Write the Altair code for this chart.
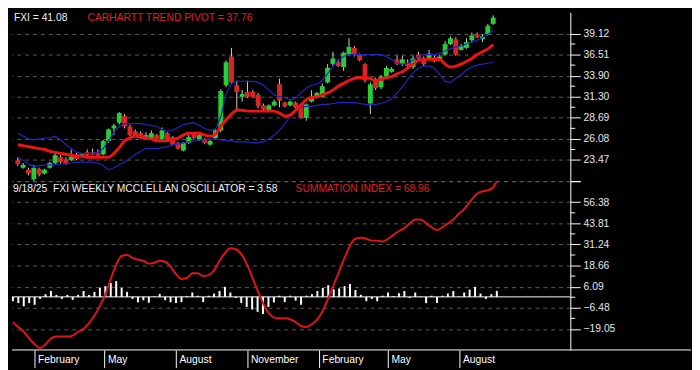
import altair as alt
import pandas as pd

FONT = "Liberation Sans, Arial, sans-serif"
W = 569
H = 172

# ---------------- data ----------------
weeks = pd.date_range("2024-01-04", periods=90, freq="7D")

open_ = [23.46, 22.52, 22.28, 21.10, 22.40, 21.81, 22.52, 23.11, 23.82, 23.59,
         23.46, 24.18, 23.94, 24.42, 24.42, 24.30, 24.18, 25.84, 27.38, 28.09,
         28.92, 27.62, 27.03, 26.79, 26.20, 26.20, 26.55, 26.08, 26.79, 26.31,
         25.60, 24.65, 25.60, 26.67, 25.96, 26.08, 25.37, 26.20, 27.14, 32.72,
         36.27, 32.72, 31.29, 31.89, 31.89, 31.53, 30.23, 29.52, 30.23, 32.84,
         30.58, 30.23, 30.58, 30.35, 28.69, 30.70, 31.29, 31.29, 33.07, 35.33,
         35.56, 34.97, 36.51, 37.34, 36.51, 35.33, 30.46, 33.43, 32.48, 33.78,
         34.38, 35.92, 35.33, 35.44, 34.97, 36.51, 36.04, 36.04, 36.16, 35.80,
         36.51, 37.82, 38.41, 37.10, 37.34, 38.29, 39.00, 38.41, 39.00, 40.31]

close = [22.99, 22.88, 21.81, 22.52, 21.69, 22.28, 23.11, 24.06, 23.22, 23.11,
         23.94, 23.59, 24.18, 24.06, 24.18, 24.06, 25.84, 27.26, 27.74, 29.28,
         27.62, 26.55, 26.43, 26.20, 26.55, 26.79, 26.08, 27.14, 25.96, 25.37,
         24.89, 25.60, 26.31, 26.20, 26.55, 25.60, 25.84, 27.14, 32.01, 35.56,
         33.07, 31.89, 31.65, 31.29, 31.29, 30.11, 29.75, 30.23, 30.70, 30.82,
         30.11, 30.70, 29.99, 28.69, 30.35, 31.29, 31.77, 32.60, 34.85, 36.04,
         35.09, 36.75, 37.46, 36.51, 35.80, 33.31, 32.84, 32.36, 33.78, 34.85,
         34.73, 35.33, 35.92, 35.09, 36.04, 36.04, 35.33, 36.63, 35.68, 36.27,
         37.82, 38.53, 36.51, 37.58, 38.05, 38.88, 38.65, 38.76, 40.07, 41.08]

high = [23.82, 23.11, 22.52, 22.88, 22.52, 22.40, 23.22, 24.30, 24.06, 23.82,
        24.77, 24.42, 24.30, 24.77, 24.89, 24.77, 25.96, 27.38, 27.97, 29.40,
        29.16, 27.86, 27.26, 27.03, 26.91, 27.14, 26.67, 27.50, 26.91, 26.43,
        25.72, 25.72, 26.55, 26.91, 26.67, 26.20, 25.96, 27.38, 32.24, 35.80,
        37.34, 33.31, 32.12, 33.31, 32.12, 31.77, 30.46, 30.35, 30.94, 33.55,
        30.70, 30.82, 30.70, 30.46, 30.46, 32.12, 31.89, 32.95, 35.33, 36.87,
        35.92, 36.87, 38.53, 37.58, 36.63, 35.44, 33.07, 33.67, 34.02, 35.09,
        34.97, 36.39, 36.39, 35.92, 36.39, 36.87, 36.27, 37.10, 36.39, 36.51,
        38.17, 38.76, 38.65, 37.82, 38.53, 39.24, 39.24, 39.00, 40.31, 41.37]

low = [22.76, 22.40, 21.57, 20.90, 21.45, 21.69, 22.40, 22.99, 22.99, 22.88,
       23.35, 23.46, 23.82, 23.94, 24.06, 23.94, 24.06, 25.60, 26.55, 27.86,
       27.38, 26.43, 26.31, 26.08, 26.08, 26.08, 25.96, 25.96, 25.84, 25.25,
       24.77, 24.54, 25.48, 26.08, 25.84, 25.48, 25.25, 26.08, 26.91, 32.48,
       32.84, 29.75, 30.70, 31.18, 31.18, 29.87, 29.52, 29.40, 30.11, 29.99,
       29.99, 30.11, 29.87, 28.57, 28.33, 30.58, 31.18, 31.18, 32.95, 35.09,
       34.97, 34.50, 36.39, 36.27, 35.68, 33.07, 29.16, 32.12, 32.24, 33.55,
       34.26, 35.21, 35.09, 34.85, 34.73, 35.92, 35.09, 35.92, 35.56, 35.68,
       36.39, 37.70, 36.39, 36.99, 37.22, 38.05, 38.53, 38.05, 38.88, 40.19]

pivot = [25.37, 25.25, 25.13, 25.01, 24.89, 24.77, 24.54, 24.42, 24.30, 24.18,
         24.06, 23.94, 23.94, 23.82, 23.82, 23.82, 23.82, 23.82, 24.30, 25.01,
         25.84, 26.20, 26.43, 26.31, 26.20, 26.08, 25.84, 25.84, 25.84, 25.96,
         26.20, 26.55, 26.79, 26.79, 26.79, 26.55, 26.43, 26.67, 27.62, 28.45,
         29.16, 29.63, 29.63, 29.52, 29.52, 29.52, 29.52, 29.52, 29.52, 29.28,
         28.92, 29.04, 29.63, 30.23, 30.94, 31.18, 31.29, 31.53, 31.77, 32.12,
         32.60, 32.95, 33.31, 33.55, 33.67, 33.67, 33.55, 33.31, 33.43, 33.67,
         33.78, 34.14, 34.38, 34.85, 35.33, 35.80, 35.92, 35.92, 35.92, 35.92,
         35.33, 34.97, 35.09, 35.33, 35.68, 36.04, 36.51, 36.87, 37.22, 37.76]

upper = [26.79, 26.43, 26.08, 25.96, 26.08, 26.20, 26.20, 26.43, 25.96, 25.37,
         24.89, 24.42, 24.30, 24.30, 24.30, 24.42, 24.89, 25.84, 26.91, 27.62,
         27.97, 27.97, 27.97, 27.97, 27.86, 27.74, 27.62, 27.26, 27.03, 27.14,
         27.50, 27.86, 27.97, 28.09, 27.74, 27.38, 27.14, 27.26, 28.80, 31.65,
         32.95, 33.19, 33.19, 33.19, 33.19, 33.07, 32.72, 32.12, 31.53, 31.29,
         31.18, 30.94, 31.06, 31.77, 32.36, 32.72, 32.84, 33.31, 34.14, 35.09,
         35.80, 36.27, 36.51, 36.51, 36.51, 36.51, 36.51, 36.51, 36.51, 36.27,
         35.92, 35.44, 35.33, 35.44, 35.80, 36.27, 36.51, 36.51, 36.51, 36.63,
         36.99, 37.22, 37.46, 37.58, 37.82, 38.05, 38.29, 38.65, 39.00, 39.48]

lower = [23.82, 23.46, 22.99, 22.64, 22.76, 22.88, 22.88, 22.88, 22.99, 22.99,
         23.11, 23.22, 23.22, 23.22, 23.22, 23.11, 22.76, 22.28, 22.52, 22.88,
         23.22, 23.71, 24.18, 24.54, 24.89, 24.89, 24.89, 25.01, 25.13, 25.37,
         25.48, 25.60, 25.72, 25.84, 25.96, 25.96, 26.08, 26.08, 25.96, 25.84,
         25.84, 25.72, 25.72, 25.72, 25.60, 25.60, 25.72, 26.08, 26.55, 27.14,
         27.97, 28.80, 29.52, 29.99, 30.11, 30.11, 30.23, 30.35, 30.35, 30.46,
         30.58, 30.58, 30.58, 30.58, 30.46, 30.35, 30.35, 30.35, 30.46, 30.70,
         31.06, 31.77, 32.48, 33.43, 34.26, 34.85, 35.09, 35.09, 34.85, 34.02,
         33.19, 33.07, 33.55, 34.02, 34.61, 34.97, 35.21, 35.33, 35.44, 35.56]

oscillator = [-2.5, -3.7, -5.6, -3.7, -4.7, -1.2, 1.6, 3.5, 1.2, -1.2,
              1.2, -1.8, 1.2, 3.5, 1.2, 3.0, 5.5, 6.4, 8.3, 9.4,
              5.4, 3.0, -1.2, -3.2, -2.0, -3.5, 0.3, 1.8, -2.0, -3.2,
              -3.7, -3.1, 0.5, 2.6, 0.7, -3.1, 0.7, 2.0, 3.5, 6.0,
              2.6, -0.7, -3.7, -6.0, -7.5, -8.9, -10.2, -6.0, -3.3, 0.7,
              -3.1, 0.7, -2.2, -4.7, 0.7, 1.6, 3.5, 5.4, 7.0, 4.5,
              5.0, 6.4, 7.7, 4.1, 1.2, -2.6, -1.2, -2.6, 0.7, 2.6,
              0.5, 2.2, 3.5, -0.7, 2.6, 0.3, -3.7, 0.7, -3.7, 0.7,
              2.0, 3.5, 0.3, 2.6, 4.3, 6.0, 2.0, -1.2, 1.6, 3.58]

summation = [-15.05, -17.91, -20.76, -24.76, -28.19, -30.48, -28.19, -24.76, -23.62, -23.62,
             -23.62, -23.05, -20.76, -19.05, -15.62, -11.05, -5.34, 1.52, 10.66, 19.23,
             24.38, 24.95, 23.24, 22.09, 21.52, 19.81, 20.38, 21.52, 20.95, 18.09,
             13.52, 10.66, 11.24, 14.09, 14.09, 12.38, 12.95, 15.81, 21.52, 26.09,
             28.95, 28.38, 25.52, 19.81, 11.81, 3.81, -3.62, -9.34, -12.19, -12.76,
             -12.76, -13.34, -15.05, -17.34, -17.91, -16.19, -13.34, -8.19, -0.76, 7.23,
             15.23, 23.24, 30.67, 34.66, 35.23, 34.66, 33.52, 33.52, 32.95, 34.66,
             36.95, 39.24, 40.95, 43.81, 46.09, 46.09, 43.81, 41.52, 39.81, 41.52,
             43.81, 46.09, 49.52, 52.38, 56.38, 60.37, 62.66, 63.23, 64.37, 68.96]

top_ticks = [20.86, 23.47, 26.08, 28.69, 31.30, 33.90, 36.51, 39.12]
top_minor = [24.78, 27.39, 30.00, 32.60, 35.21, 37.82]
bot_ticks = [68.95, 56.38, 43.81, 31.24, 18.66, 6.09, -6.48, -19.05]
bot_minor = [50.10, 37.53, 24.95, 12.38, -0.20, -12.77]
month_ticks = [alt.DateTime(year=2024, month=2, date=1),
               alt.DateTime(year=2024, month=5, date=1),
               alt.DateTime(year=2024, month=8, date=1),
               alt.DateTime(year=2024, month=11, date=1),
               alt.DateTime(year=2025, month=2, date=1),
               alt.DateTime(year=2025, month=5, date=1),
               alt.DateTime(year=2025, month=8, date=1)]

top_title_left = "FXI = 41.08"
top_title_right = "CARHARTT TREND PIVOT = 37.76"
bot_title_left = "9/18/25\u00a0\u00a0FXI WEEKLY MCCLELLAN OSCILLATOR = 3.58"
bot_title_right = "SUMMATION INDEX = 68.96"

df = pd.DataFrame({"date": weeks, "open": open_, "high": high, "low": low,
                   "close": close, "pivot": pivot, "upper": upper, "lower": lower,
                   "osc": oscillator, "summ": summation})

# ---------------- scales / axes ----------------
xs = alt.Scale(domain=[alt.DateTime(year=2024, month=1, date=2, hours=18),
                       alt.DateTime(year=2025, month=12, date=21, hours=15)])
ys_top = alt.Scale(domain=[20.86, 41.73], nice=False, zero=False)
ys_bot = alt.Scale(domain=[-31.62, 68.95], nice=False, zero=False)

common_axis = dict(orient="right", grid=True, gridColor="#5c5c5c", gridDash=[4, 4],
                   gridWidth=1, domainColor="white", domainWidth=1, tickColor="white",
                   tickSize=10, tickWidth=1, labelColor="#e6e6e6", labelFont=FONT,
                   labelFontSize=10.5, labelPadding=3, title=None, labelOverlap=False,
                   labelBound=False, labelFlush=False)
top_axis = alt.Axis(values=top_ticks,
                    labelExpr="datum.value < 22 ? '' : format(datum.value, '.2f')",
                    **common_axis)
bot_axis = alt.Axis(values=bot_ticks,
                    labelExpr="datum.value > 68 ? '' : format(datum.value, '.2f')",
                    **common_axis)
x_axis = alt.Axis(values=month_ticks, format="%B", tickSize=18, tickColor="white",
                  tickWidth=1, domain=False, grid=False, labelAlign="left",
                  labelBaseline="middle", labelPadding=-8, labelOffset=3,
                  labelColor="white", labelFont=FONT, labelFontSize=10.5,
                  labelFlush=False, labelOverlap=False, labelBound=False, title=None)

XT = alt.X("date:T", scale=xs, axis=None)        # top panel: no x axis
XB = alt.X("date:T", scale=xs, axis=x_axis)      # bottom panel: month axis


def YT(field):
    return alt.Y(field, scale=ys_top, axis=top_axis)


def YB(field):
    return alt.Y(field, scale=ys_bot, axis=bot_axis)


def label(txt, x, y, color):
    return alt.Chart(pd.DataFrame({"t": [txt]})).mark_text(
        align="left", baseline="middle", font=FONT, fontSize=10.5, color=color
    ).encode(x=alt.value(x), y=alt.value(y), text="t:N")


def minor(vals, yfun):
    return alt.Chart(pd.DataFrame({"v": vals})).mark_rule(color="white", strokeWidth=1).encode(
        x=alt.value(W), x2=alt.value(W + 5), y=yfun("v:Q"))


# ---------------- top panel ----------------
wicks = alt.Chart(df).mark_rule(color="#d0d0d0", strokeWidth=1).encode(
    x=XT, y=YT("low:Q"), y2="high:Q")
bodies = alt.Chart(df).mark_bar(size=5).encode(
    x=XT, y=YT("open:Q"), y2="close:Q",
    color=alt.condition("datum.close >= datum.open", alt.value("#27cc38"), alt.value("#dd2424")))
up_line = alt.Chart(df).mark_line(color="#2226c0", strokeWidth=1.2).encode(x=XT, y=YT("upper:Q"))
lo_line = alt.Chart(df).mark_line(color="#2226c0", strokeWidth=1.2).encode(x=XT, y=YT("lower:Q"))
pv_line = alt.Chart(df).mark_line(color="#ee1414", strokeWidth=3, interpolate="monotone").encode(
    x=XT, y=YT("pivot:Q"))

top = alt.layer(
    wicks, bodies, up_line, lo_line, pv_line, minor(top_minor, YT),
    label(top_title_left, 2, 6, "#f0f0f0"),
    label(top_title_right, 77, 6, "#e02020"),
).properties(width=W, height=H)

# ---------------- bottom panel ----------------
zero_line = alt.Chart(pd.DataFrame({"z": [0]})).mark_rule(color="white", strokeWidth=1).encode(
    x=alt.value(0), x2=alt.value(W), y=YB("z:Q"))
osc_bars = alt.Chart(df).mark_rule(color="white", strokeWidth=2).encode(
    x=XB, y=YB("osc:Q"), y2=alt.datum(0))
summ_line = alt.Chart(df).mark_line(color="#e01414", strokeWidth=2, interpolate="monotone").encode(
    x=XB, y=YB("summ:Q"))
base_line = alt.Chart(pd.DataFrame({"a": [0]})).mark_rule(color="white", strokeWidth=1).encode(
    x=alt.value(0), x2=alt.value(692), y=alt.value(H))

bottom = alt.layer(
    zero_line, osc_bars, summ_line, minor(bot_minor, YB), base_line,
    label(bot_title_left, 1, 8, "#f0f0f0"),
    label(bot_title_right, 289, 8, "#e02020"),
).properties(width=W, height=H)

chart = alt.vconcat(top, bottom, spacing=0, bounds="flush").properties(
    background="#000000", padding=0
).configure_view(stroke="transparent")

chart.save("out.html", embed_options={"renderer": "svg", "actions": False})
